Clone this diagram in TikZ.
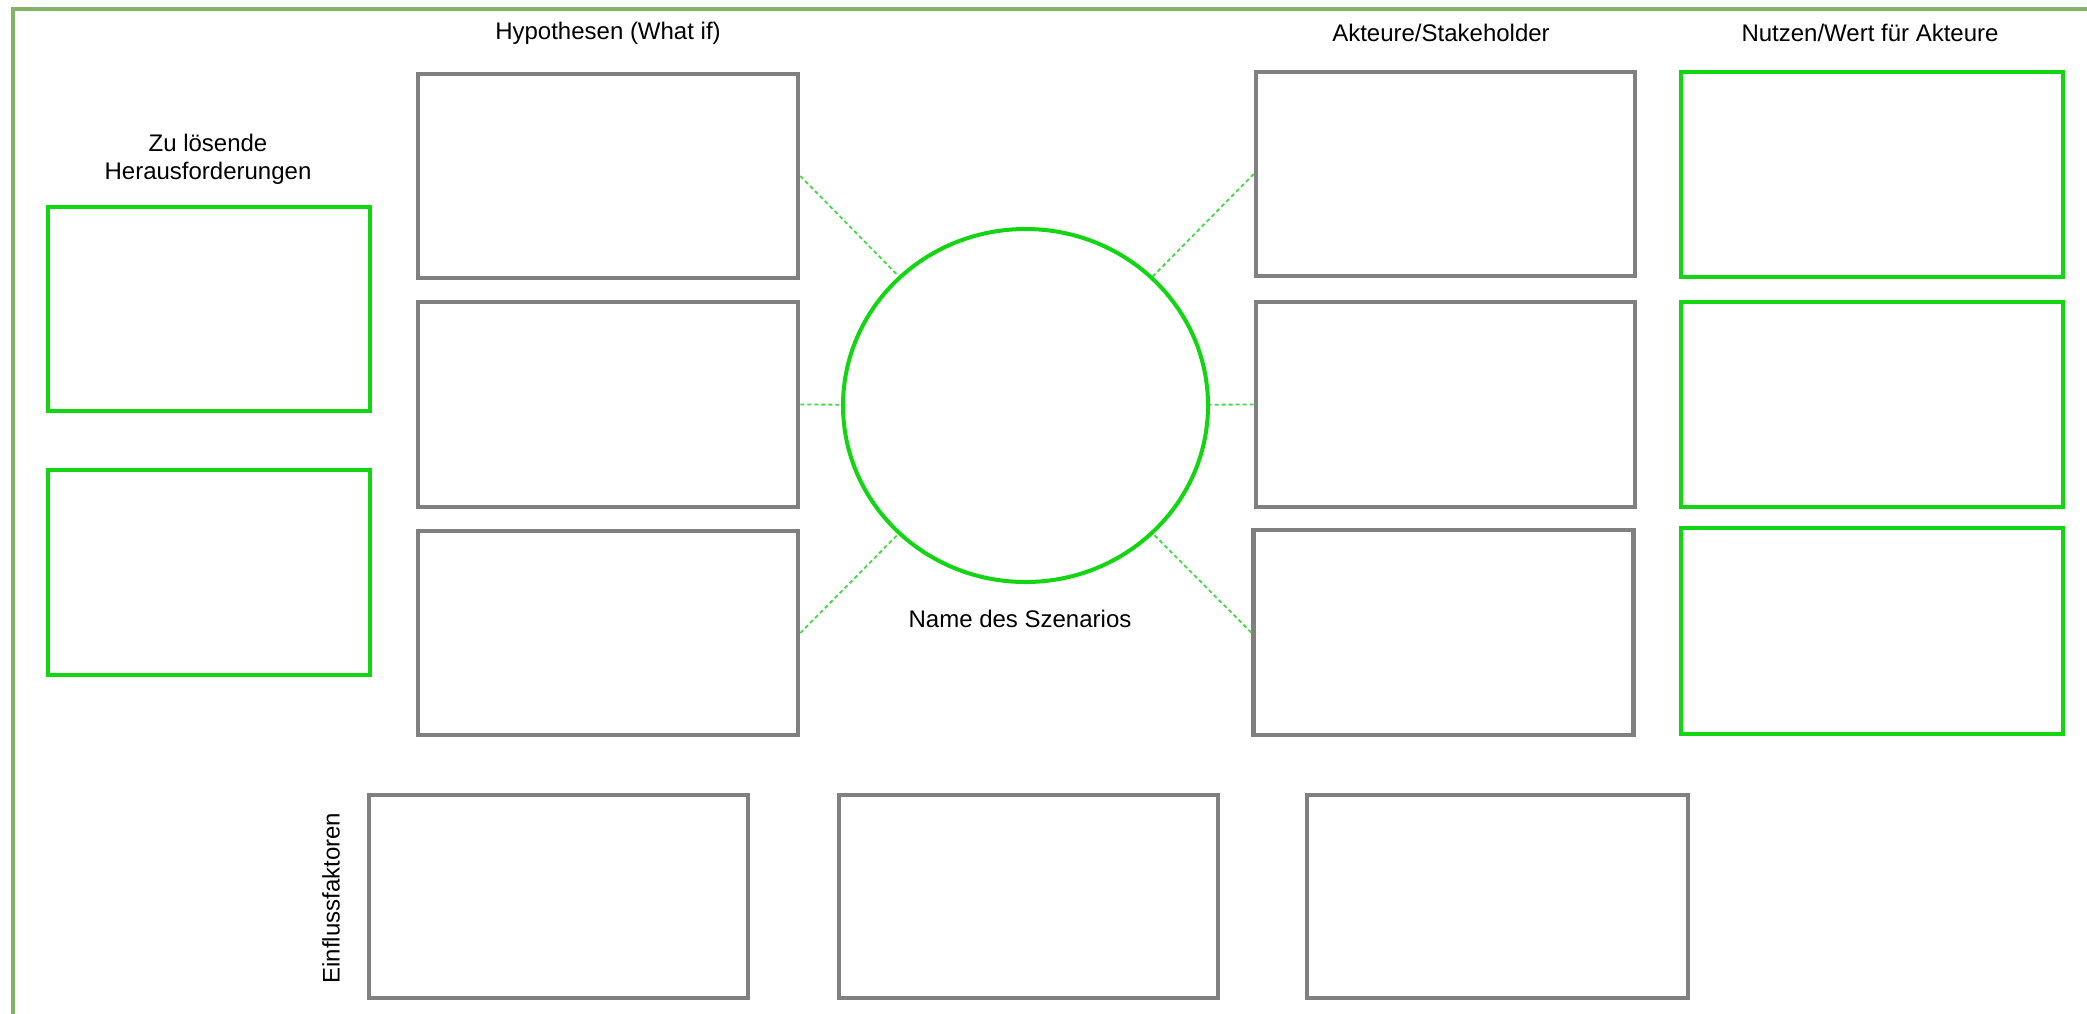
\documentclass[tikz,border=0pt]{standalone}
\usepackage{fontspec}
\setmainfont{Liberation Sans}
\usetikzlibrary{shapes.geometric}
\definecolor{boxgray}{HTML}{808080}
\definecolor{boxgreen}{HTML}{11D611}
\definecolor{framegreen}{HTML}{82B366}
\definecolor{dashgreen}{HTML}{44D844}
\tikzset{
  graybox/.style={draw=boxgray, line width=2.3pt, rectangle, inner sep=0pt, minimum width=#1},
  greenbox/.style={draw=boxgreen, line width=2.3pt, rectangle, inner sep=0pt, minimum width=#1},
  lbl/.style={font=\fontsize{12}{14}\selectfont, inner sep=0pt, align=center},
  link/.style={draw=dashgreen, line width=0.9pt, dash pattern=on 2pt off 1.5pt}
}
\begin{document}
\begin{tikzpicture}[x=0.5pt, y=-0.5pt]
\useasboundingbox (0,0) rectangle (2087,1013);
% outer frame (right and bottom edges lie outside the picture)
\draw[framegreen, line width=2.2pt] (13,1030) -- (13,9) -- (2100,9);

% left column
\node[greenbox=161pt, minimum height=102pt] (L1) at (209,309) {};
\node[greenbox=161pt, minimum height=102.5pt] (L2) at (209,572.5) {};
\node[lbl] (tL) at (208,159) {Zu lösende\\Herausforderungen};

% hypotheses
\node[graybox=190pt, minimum height=102pt] (H1) at (608,176) {};
\node[graybox=190pt, minimum height=102.5pt] (H2) at (608,404.5) {};
\node[graybox=190pt, minimum height=102pt] (H3) at (608,633) {};
\node[lbl] (tH) at (608,33) {Hypothesen (What if)};

% actors
\node[graybox=189.5pt, minimum height=102pt] (A1) at (1445.5,174) {};
\node[graybox=189.5pt, minimum height=102.5pt] (A2) at (1445.5,404.5) {};
\node[graybox=190pt, minimum height=102.5pt] (A3) at (1443.5,632.5) {};
\node[lbl] (tA) at (1441,33) {Akteure/Stakeholder};

% value for actors
\node[greenbox=191pt, minimum height=102.5pt] (N1) at (1872,174.5) {};
\node[greenbox=191pt, minimum height=102.5pt] (N2) at (1872,404.5) {};
\node[greenbox=191pt, minimum height=103pt] (N3) at (1872,631) {};
\node[lbl] (tN) at (1870,33) {Nutzen/Wert für Akteure};

% scenario
\node[ellipse, draw=boxgreen, line width=2pt, inner sep=0pt,
      minimum width=182.5pt, minimum height=176.5pt] (S) at (1025.5,405.5) {};
\node[lbl] (tS) at (1020,619) {Name des Szenarios};

% connectors
\draw[link] (H1.east) -- (S);
\draw[link] (H2.east) -- (S);
\draw[link] (H3.east) -- (S);
\draw[link] (A1.west) -- (S);
\draw[link] (A2.west) -- (S);
\draw[link] (A3.west) -- (S);

% influencing factors
\node[graybox=189.5pt, minimum height=101.5pt] (B1) at (558.5,896.5) {};
\node[graybox=189.5pt, minimum height=101.5pt] (B2) at (1028.5,896.5) {};
\node[graybox=190.5pt, minimum height=101.5pt] (B3) at (1497.5,896.5) {};
\node[lbl, rotate=90] (tB) at (331,898) {Einflussfaktoren};
\end{tikzpicture}
\end{document}
